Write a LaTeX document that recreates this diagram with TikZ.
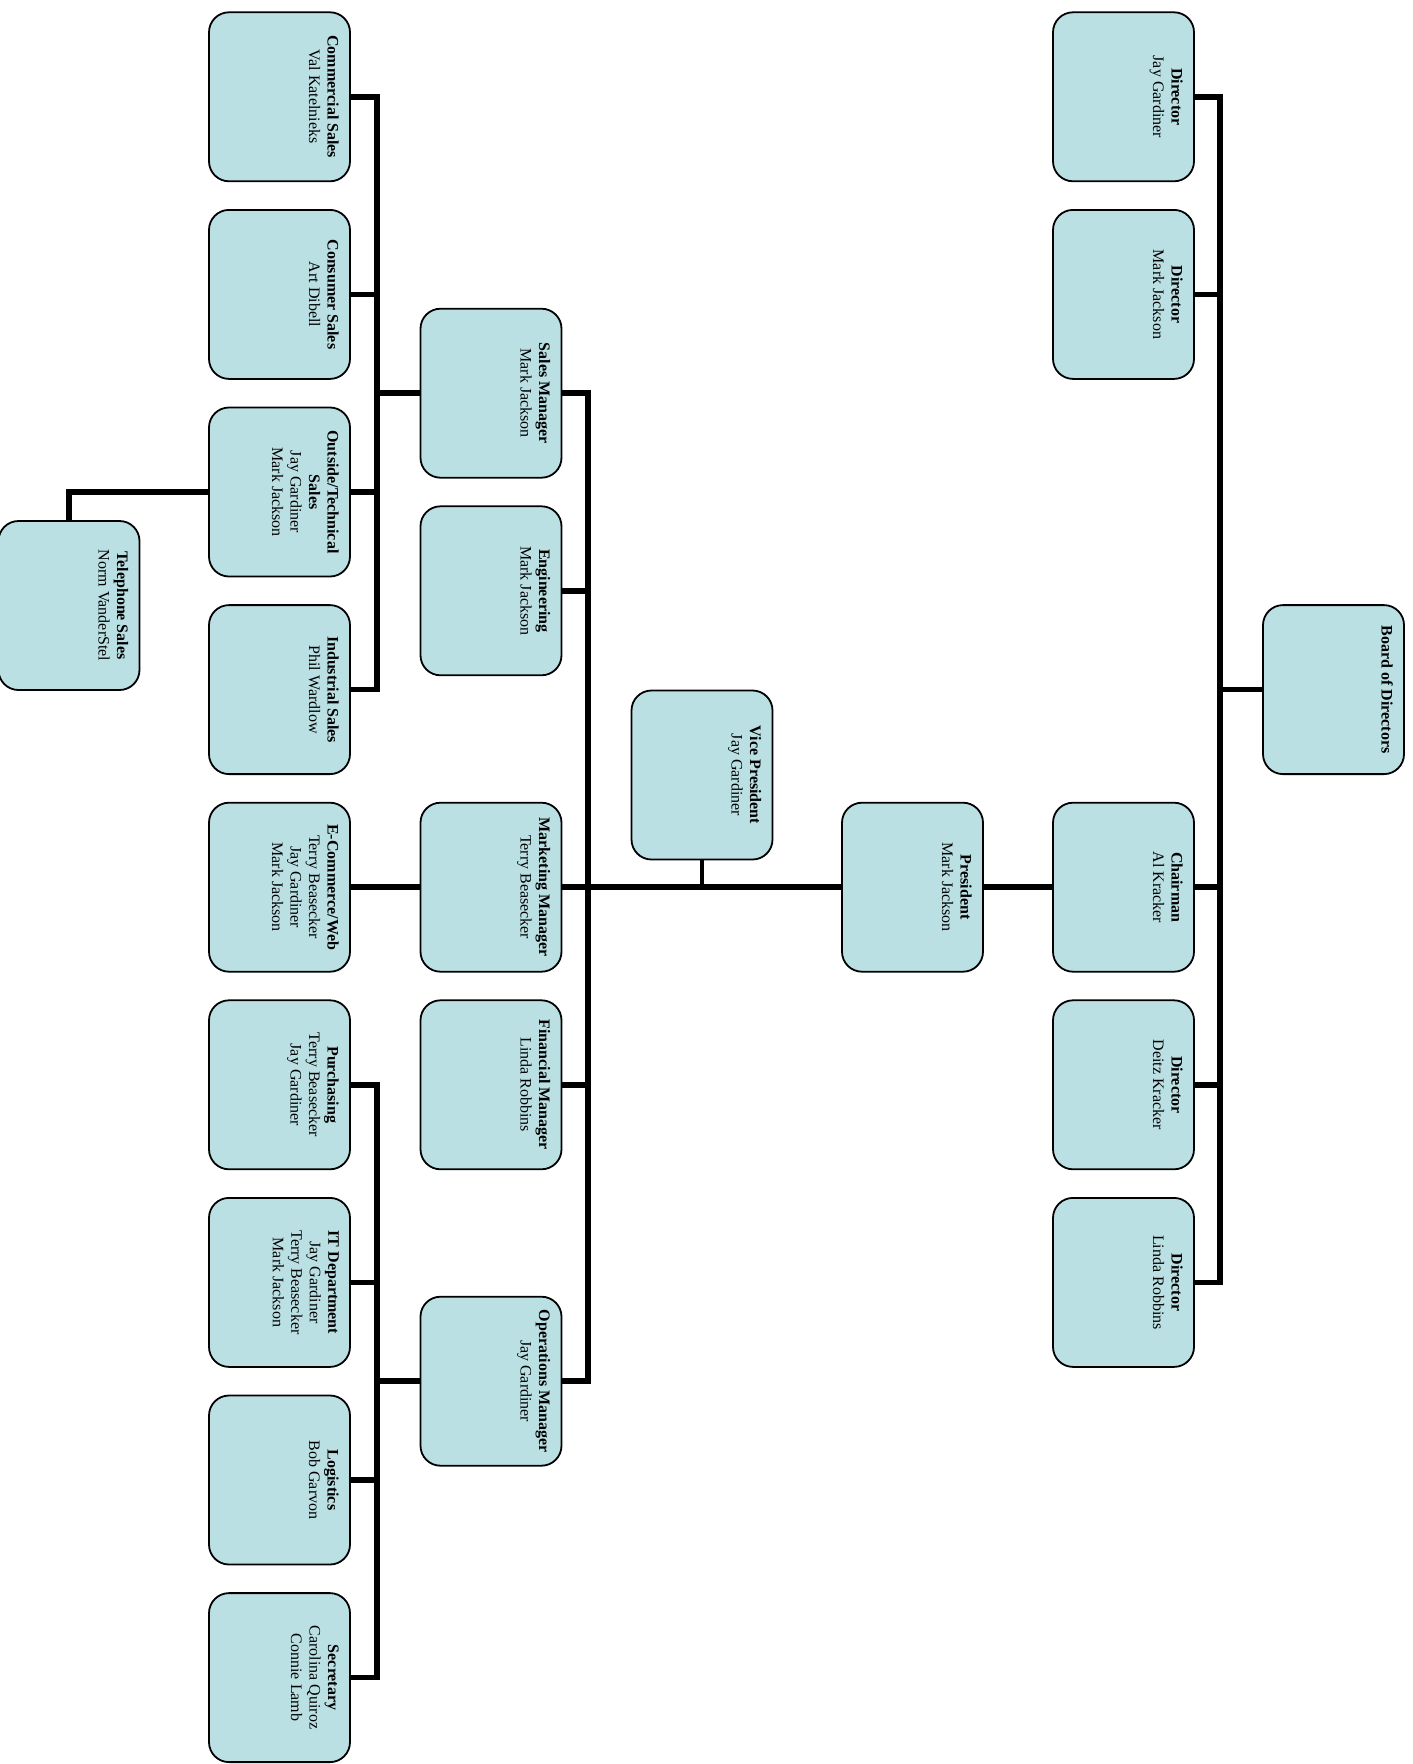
\documentclass[tikz,border=0pt]{standalone}
\usepackage{fontspec}
\setmainfont{Liberation Serif}
\definecolor{boxfill}{RGB}{186,224,228}
\begin{document}
\begin{tikzpicture}[x=1pt,y=-1pt,
  box/.style={draw=black, fill=boxfill, line width=1.8pt, rounded corners=20pt,
    minimum width=141pt, minimum height=169pt, inner sep=0pt, outer sep=0pt},
  lbl/.style={font=\fontsize{16}{18.5}\selectfont, align=center, inner sep=0pt,
    anchor=north, rotate=-90},
  conn/.style={line width=5.5pt, draw=black},
  stem/.style={line width=4.5pt, draw=black}]
\useasboundingbox (0,0) rectangle (1413,1764);
% column A
\node[box] (cs)   at (279.5,96.8)   {};
\node[box] (cons) at (279.5,294.4)  {};
\node[box] (ots)  at (279.5,492)    {};
\node[box] (ind)  at (279.5,689.6)  {};
\node[box] (ecw)  at (279.5,887.2)  {};
\node[box] (pur)  at (279.5,1084.8) {};
\node[box] (itd)  at (279.5,1282.4) {};
\node[box] (log)  at (279.5,1480)   {};
\node[box] (sec)  at (279.5,1677.6) {};
\node[box] (tel)  at (69,605.5)     {};
% column B
\node[box] (sm)  at (491,393.2)  {};
\node[box] (eng) at (491,590.8)  {};
\node[box] (mm)  at (491,887.2)  {};
\node[box] (fm)  at (491,1084.8) {};
\node[box] (om)  at (491,1381.2) {};
% centre
\node[box] (vp)   at (702,775)     {};
\node[box] (pres) at (912.5,887.2) {};
% column D
\node[box] (d1) at (1123.5,96.8)   {};
\node[box] (d2) at (1123.5,294.4)  {};
\node[box] (ch) at (1123.5,887.2)  {};
\node[box] (d3) at (1123.5,1084.8) {};
\node[box] (d4) at (1123.5,1282.4) {};
\node[box] (board) at (1333.5,689.6) {};
% trunk coordinates
\coordinate (tA) at (377,0);
\coordinate (tM) at (588,0);
\coordinate (tB) at (1220,0);
% labels
\node[lbl] (cs-t)   at ([xshift=-11pt]cs.east)   {\textbf{Commercial Sales}\\Val Katelnieks};
\node[lbl] (cons-t) at ([xshift=-11pt]cons.east) {\textbf{Consumer Sales}\\Art Dibell};
\node[lbl] (ots-t)  at ([xshift=-11pt]ots.east)  {\textbf{Outside/Technical}\\\textbf{Sales}\\Jay Gardiner\\Mark Jackson};
\node[lbl] (ind-t)  at ([xshift=-11pt]ind.east)  {\textbf{Industrial Sales}\\Phil Wardlow};
\node[lbl] (ecw-t)  at ([xshift=-11pt]ecw.east)  {\textbf{E-Commerce/Web}\\Terry Beasecker\\Jay Gardiner\\Mark Jackson};
\node[lbl] (pur-t)  at ([xshift=-11pt]pur.east)  {\textbf{Purchasing}\\Terry Beasecker\\Jay Gardiner};
\node[lbl] (itd-t)  at ([xshift=-11pt]itd.east)  {\textbf{IT Department}\\Jay Gardiner\\Terry Beasecker\\Mark Jackson};
\node[lbl] (log-t)  at ([xshift=-11pt]log.east)  {\textbf{Logistics}\\Bob Garvon};
\node[lbl] (sec-t)  at ([xshift=-11pt]sec.east)  {\textbf{Secretary}\\Carolina Quiroz\\Connie Lamb};
\node[lbl] (tel-t)  at ([xshift=-11pt]tel.east)  {\textbf{Telephone Sales}\\Norm VanderStel};
\node[lbl] (sm-t)   at ([xshift=-11pt]sm.east)   {\textbf{Sales Manager}\\Mark Jackson};
\node[lbl] (eng-t)  at ([xshift=-11pt]eng.east)  {\textbf{Engineering}\\Mark Jackson};
\node[lbl] (mm-t)   at ([xshift=-11pt]mm.east)   {\textbf{Marketing Manager}\\Terry Beasecker};
\node[lbl] (fm-t)   at ([xshift=-11pt]fm.east)   {\textbf{Financial Manager}\\Linda Robbins};
\node[lbl] (om-t)   at ([xshift=-11pt]om.east)   {\textbf{Operations Manager}\\Jay Gardiner};
\node[lbl] (vp-t)   at ([xshift=-11pt]vp.east)   {\textbf{Vice President}\\Jay Gardiner};
\node[lbl] (pres-t) at ([xshift=-11pt]pres.east) {\textbf{President}\\Mark Jackson};
\node[lbl] (d1-t)   at ([xshift=-11pt]d1.east)   {\textbf{Director}\\Jay Gardiner};
\node[lbl] (d2-t)   at ([xshift=-11pt]d2.east)   {\textbf{Director}\\Mark Jackson};
\node[lbl] (ch-t)   at ([xshift=-11pt]ch.east)   {\textbf{Chairman}\\Al Kracker};
\node[lbl] (d3-t)   at ([xshift=-11pt]d3.east)   {\textbf{Director}\\Deitz Kracker};
\node[lbl] (d4-t)   at ([xshift=-11pt]d4.east)   {\textbf{Director}\\Linda Robbins};
\node[lbl] (board-t) at ([xshift=-11pt]board.east) {\textbf{Board of Directors}};
% sales group
\draw[conn] (cs.east) -- (cs.east -| tA) -- (ind.east -| tA) -- (ind.east);
\draw[conn] (cons.east) -- (cons.east -| tA);
\draw[conn] (ots.east) -- (ots.east -| tA);
\draw[conn] (sm.west) -- (sm.west -| tA);
\draw[conn] (ots.west) -| (tel.north);
% e-commerce
\draw[conn] (ecw.east) -- (mm.west);
% operations group
\draw[conn] (pur.east) -- (pur.east -| tA) -- (sec.east -| tA) -- (sec.east);
\draw[conn] (itd.east) -- (itd.east -| tA);
\draw[conn] (log.east) -- (log.east -| tA);
\draw[conn] (om.west) -- (om.west -| tA);
% main trunk
\draw[conn] (sm.east) -- (sm.east -| tM) -- (om.east -| tM) -- (om.east);
\draw[conn] (eng.east) -- (eng.east -| tM);
\draw[conn] (fm.east) -- (fm.east -| tM);
\draw[conn] (mm.east) -- (pres.west);
\draw[stem] (vp.south) -- (vp.south |- pres.west);
\draw[conn] (pres.east) -- (ch.west);
% board group
\draw[conn] (d1.east) -- (d1.east -| tB) -- (d4.east -| tB) -- (d4.east);
\draw[conn] (d2.east) -- (d2.east -| tB);
\draw[conn] (ch.east) -- (ch.east -| tB);
\draw[conn] (d3.east) -- (d3.east -| tB);
\draw[conn] (board.west) -- (board.west -| tB);
\end{tikzpicture}
\end{document}
